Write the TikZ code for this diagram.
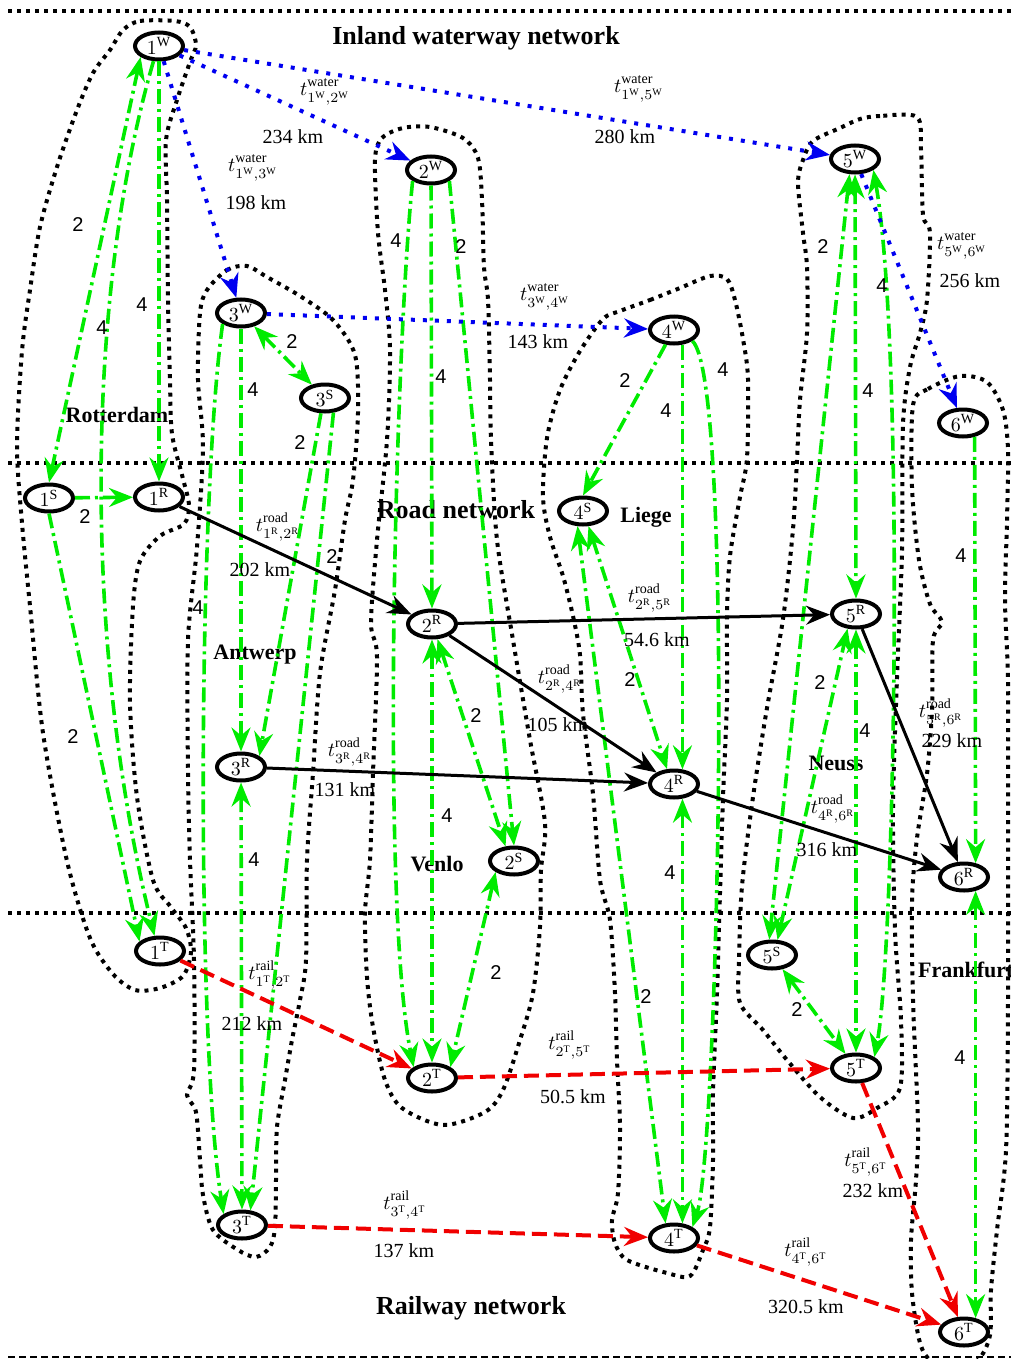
\documentclass[tikz,border=0pt]{standalone}
\usepackage{fontspec}
\setmainfont{Liberation Serif}
\setsansfont{Liberation Sans}
\usetikzlibrary{arrows.meta,shapes.geometric}
\definecolor{transfer}{RGB}{0,235,0}
\definecolor{waterway}{RGB}{0,0,240}
\definecolor{railway}{RGB}{240,0,0}
\newcommand{\nlab}[2]{$#1^{\mathrm{#2}}$}
\newcommand{\tarc}[4]{$t^{\mathrm{#1}\vphantom{,}}_{#3^{\mathrm{#2}},#4^{\mathrm{#2}}}$}

\begin{document}
\begin{tikzpicture}[
  x=0.5pt, y=-0.5pt,
  font=\fontsize{10}{12}\selectfont,
  >={Stealth[length=12pt,width=9.5pt,inset=4pt]},
  term/.style={draw, ellipse, line width=2pt, minimum width=24pt, minimum height=13.5pt, inner sep=0pt},
  trans/.style={draw=transfer, line width=1.8pt, dash pattern=on 7.5pt off 2.5pt on 1.5pt off 2.5pt},
  water/.style={draw=waterway, line width=2pt, dash pattern=on 2pt off 4pt},
  road/.style={draw=black, line width=1.5pt},
  rail/.style={draw=railway, line width=2pt, dash pattern=on 7.5pt off 3.5pt},
  cluster/.style={draw, line width=2pt, dash pattern=on 2pt off 2.6pt},
  netline/.style={draw, line width=2pt, dash pattern=on 2pt off 2.5pt},
  netname/.style={font=\fontsize{13}{15}\selectfont\bfseries},
  city/.style={font=\fontsize{11}{13}\selectfont\bfseries},
  cnt/.style={font=\sffamily\fontsize{10}{11}\selectfont, inner sep=1pt},
  dist/.style={inner sep=1pt}
]
\useasboundingbox (0,0) rectangle (1011,1359);

% layer separators
\draw[netline] (8,11) -- (1011,11);
\draw[netline] (8,463) -- (1011,463);
\draw[netline] (8,913) -- (1011,913);
\draw[line width=1pt, dash pattern=on 3.5pt off 2pt] (8,1357) -- (1011,1357);

% city outlines
\draw[cluster] plot[smooth cycle] coordinates {(123,30) (140,21) (175,21) (190,27) (196,45) (190,62) (177,100) (166,140) (167,200) (168,300) (170,383) (172,434) (182,475) (189,505) (184,524) (160,536) (140,561) (133,606) (130,702) (137,797) (153,880) (170,906) (186,928) (191,952) (183,976) (160,988) (135,990) (113,974) (90,938) (67,861) (43,733) (30,606) (22,523) (17,446) (22,351) (30,290) (40,227) (57,167) (77,110) (93,73) (110,50)};
\draw[cluster] plot[smooth cycle] coordinates {(207,290) (227,270) (247,266) (267,277) (300,296) (333,320) (355,355) (358,413) (353,480) (345,520) (335,590) (320,673) (313,773) (307,860) (306,960) (300,1000) (292,1040) (285,1080) (277,1127) (276,1180) (275,1227) (270,1247) (256,1257) (238,1250) (213,1230) (203,1195) (200,1160) (196,1112) (187,1095) (194,1070) (194,960) (190,860) (188,773) (188,640) (197,547) (203,447) (198,380) (200,313)};
\draw[cluster] plot[smooth cycle] coordinates {(375,160) (382,138) (403,128) (430,127) (463,138) (478,158) (482,200) (484,267) (488,300) (490,380) (491,440) (497,540) (513,640) (530,740) (545,823) (541,870) (540,927) (533,993) (520,1040) (503,1090) (485,1112) (443,1125) (402,1108) (385,1080) (373,1027) (367,977) (365,913) (370,860) (373,773) (377,657) (371,623) (377,540) (387,440) (390,350) (385,290) (378,233)};
\draw[cluster] plot[smooth cycle] coordinates {(620,311) (650,300) (680,288) (710,276) (727,279) (735,300) (743,339) (748,379) (747,458) (740,497) (730,556) (727,616) (727,700) (723,797) (720,893) (717,993) (713,1093) (713,1160) (710,1227) (703,1250) (690,1276) (667,1273) (627,1260) (615,1243) (612,1220) (618,1193) (620,1127) (617,1060) (615,993) (610,920) (600,880) (593,794) (583,714) (580,655) (573,616) (563,576) (550,537) (543,497) (547,438) (560,390) (580,351) (603,319)};
\draw[cluster] plot[smooth cycle] coordinates {(917,117) (880,116) (860,119) (840,128) (813,141) (803,160) (798,183) (803,233) (807,267) (807,333) (800,400) (797,460) (793,529) (783,619) (767,708) (753,797) (742,886) (739,960) (740,1003) (763,1030) (787,1060) (820,1097) (853,1118) (877,1108) (900,1088) (901,1020) (895,931) (893,806) (897,678) (902,551) (903,424) (910,367) (920,333) (927,300) (930,233) (923,215) (921,150)};
\draw[cluster] plot[smooth cycle] coordinates {(913,405) (928,389) (960,376) (987,382) (1003,410) (1008,450) (1007,520) (1005,600) (1008,680) (1008,800) (1008,1000) (1006,1150) (997,1230) (991,1290) (990,1335) (978,1360) (955,1368) (932,1362) (920,1343) (912,1293) (911,1240) (916,1180) (918,1124) (913,1000) (912,901) (917,838) (927,774) (932,710) (933,640) (942,622) (930,604) (919,560) (912,487)};

% network and city names
\node[netname] (nw) at (476,38) {Inland waterway network};
\node[netname] (nr) at (456,510) {Road network};
\node[netname] (nt) at (471,1308) {Railway network};
\node[city] (cRot) at (117,415) {Rotterdam};
\node[city] (cAnt) at (255,655) {Antwerp};
\node[city] (cVen) at (437,864) {Venlo};
\node[city] (cLie) at (646,517) {Liege};
\node[city] (cNeu) at (836,763) {Neuss};
\node[city, anchor=west] (cFra) at (911,970) {Frankfurt};

% terminals
\node[term] (w1) at (159,46) {\nlab{1}{W}};
\node[term] (w2) at (431,170) {\nlab{2}{W}};
\node[term] (w3) at (241,313) {\nlab{3}{W}};
\node[term] (w4) at (674,330) {\nlab{4}{W}};
\node[term] (w5) at (855,159) {\nlab{5}{W}};
\node[term] (w6) at (963,423) {\nlab{6}{W}};
\node[term] (s1) at (49,498) {\nlab{1}{S}};
\node[term] (s2) at (514,861) {\nlab{2}{S}};
\node[term] (s3) at (325,398) {\nlab{3}{S}};
\node[term] (s4) at (583,511) {\nlab{4}{S}};
\node[term] (s5) at (772,955) {\nlab{5}{S}};
\node[term] (r1) at (159,497) {\nlab{1}{R}};
\node[term] (r2) at (432,624) {\nlab{2}{R}};
\node[term] (r3) at (241,767) {\nlab{3}{R}};
\node[term] (r4) at (674,784) {\nlab{4}{R}};
\node[term] (r5) at (856,614) {\nlab{5}{R}};
\node[term] (r6) at (964,877) {\nlab{6}{R}};
\node[term] (t1) at (160,951) {\nlab{1}{T}};
\node[term] (t2) at (432,1078) {\nlab{2}{T}};
\node[term] (t3) at (242,1225) {\nlab{3}{T}};
\node[term] (t4) at (674,1238) {\nlab{4}{T}};
\node[term] (t5) at (856,1068) {\nlab{5}{T}};
\node[term] (t6) at (964,1332) {\nlab{6}{T}};

% transfers inside each city
\draw[trans,<->] (w1.south west) -- (s1.north) node[cnt] (g1) at (78,225) {2};
\draw[trans,->] (w1) -- (r1) node[cnt] (g2) at (142,305) {4};
\draw[trans,->] (w1.250) .. controls (84,300) and (84,650) .. (t1.110) node[cnt] (g3) at (102,328) {4};
\draw[trans,->] (s1) -- (r1) node[cnt] (g4) at (85,517) {2};
\draw[trans,->] (s1.south) -- (t1.155) node[cnt] (g5) at (73,737) {2};

\draw[trans,<->] (w3) -- (s3) node[cnt] (g6) at (292,342) {2};
\draw[trans,->] (w3) -- (r3) node[cnt] (g7) at (253,390) {4};
\draw[trans,->] (w3.south west) .. controls (198,500) and (196,1040) .. (t3.north west) node[cnt] (g8) at (198,608) {4};
\draw[trans,->] (s3.255) -- (r3.north east) node[cnt] (g9) at (300,443) {2};
\draw[trans,->] (s3.300) -- (t3.60) node[cnt] (g10) at (332,557) {2};
\draw[trans,<->] (r3) -- (t3) node[cnt] (g11) at (254,860) {4};

\draw[trans,->] (w2) -- (r2) node[cnt] (g12) at (441,377) {4};
\draw[trans,->] (w2.south west) .. controls (396,340) and (380,900) .. (t2.north west) node[cnt] (g13) at (396,241) {4};
\draw[trans,->] (w2.south east) -- (s2.north) node[cnt] (g14) at (461,247) {2};
\draw[trans,<->] (r2.290) -- (s2.120) node[cnt] (g15) at (476,716) {2};
\draw[trans,<->] (r2) -- (t2) node[cnt] (g16) at (447,816) {4};
\draw[trans,<->] (s2.south west) -- (t2.north east) node[cnt] (g17) at (496,973) {2};

\draw[trans,->] (w4.240) -- (s4.north) node[cnt] (g18) at (625,381) {2};
\draw[trans,->] (w4.300) -- (r4.60) node[cnt] (g19) at (666,411) {4};
\draw[trans,->] (w4.south east) .. controls (735,380) and (718,1150) .. (t4.north east) node[cnt] (g20) at (723,370) {4};
\draw[trans,<->] (s4.290) -- (r4.115) node[cnt] (g21) at (630,680) {2};
\draw[trans,<->] (s4.250) -- (t4.120) node[cnt] (g22) at (646,997) {2};
\draw[trans,<->] (r4.300) -- (t4.60) node[cnt] (g23) at (670,873) {4};

\draw[trans,<->] (w5) -- (r5) node[cnt] (g24) at (868,391) {4};
\draw[trans,<->] (w5.250) -- (s5.100) node[cnt] (g25) at (823,247) {2};
\draw[trans,<->] (w5.south east) .. controls (905,350) and (895,950) .. (t5.north east) node[cnt] (g26) at (882,286) {4};
\draw[trans,<->] (s5.70) -- (r5.240) node[cnt] (g27) at (820,683) {2};
\draw[trans,<->] (r5) -- (t5) node[cnt] (g28) at (865,731) {4};
\draw[trans,<->] (s5) -- (t5) node[cnt] (g29) at (797,1010) {2};

\draw[trans,->] (w6.310) -- (r6.50) node[cnt] (g30) at (961,556) {4};
\draw[trans,<->] (r6.310) -- (t6.50) node[cnt] (g31) at (960,1058) {4};

% inland waterway arcs
\draw[water,->] (w1) -- (w2) node[dist] (lw12) at (325,92) {\tarc{water}{W}{1}{2}} node[dist] (dw12) at (293,137) {234 km};
\draw[water,->] (w1) -- (w3) node[dist] (lw13) at (253,168) {\tarc{water}{W}{1}{3}} node[dist] (dw13) at (256,203) {198 km};
\draw[water,->] (w1) -- (w5) node[dist] (lw15) at (639,89) {\tarc{water}{W}{1}{5}} node[dist] (dw15) at (625,137) {280 km};
\draw[water,->] (w3) -- (w4) node[dist] (lw34) at (545,297) {\tarc{water}{W}{3}{4}} node[dist] (dw34) at (538,342) {143 km};
\draw[water,->] (w5) -- (w6) node[dist] (lw56) at (962,246) {\tarc{water}{W}{5}{6}} node[dist] (dw56) at (970,281) {256 km};

% road arcs
\draw[road,->] (r1) -- (r2) node[dist] (lr12) at (278,527) {\tarc{road}{R}{1}{2}} node[dist] (dr12) at (260,570) {202 km};
\draw[road,->] (r2) -- (r5) node[dist] (lr25) at (650,598) {\tarc{road}{R}{2}{5}} node[dist] (dr25) at (657,640) {54.6 km};
\draw[road,->] (r2) -- (r4) node[dist] (lr24) at (560,679) {\tarc{road}{R}{2}{4}} node[dist] (dr24) at (558,725) {105 km};
\draw[road,->] (r3) -- (r4) node[dist] (lr34) at (350,752) {\tarc{road}{R}{3}{4}} node[dist] (dr34) at (345,790) {131 km};
\draw[road,->] (r4) -- (r6) node[dist] (lr46) at (833,809) {\tarc{road}{R}{4}{6}} node[dist] (dr46) at (827,850) {316 km};
\draw[road,->] (r5) -- (r6) node[dist] (lr56) at (941,713) {\tarc{road}{R}{5}{6}} node[dist] (dr56) at (952,741) {229 km};

% railway arcs
\draw[rail,->] (t1) -- (t2) node[dist] (lt12) at (270,975) {\tarc{rail}{T}{1}{2}} node[dist] (dt12) at (252,1024) {212 km};
\draw[rail,->] (t2) -- (t5) node[dist] (lt25) at (570,1045) {\tarc{rail}{T}{2}{5}} node[dist] (dt25) at (573,1097) {50.5 km};
\draw[rail,->] (t3) -- (t4) node[dist] (lt34) at (405,1205) {\tarc{rail}{T}{3}{4}} node[dist] (dt34) at (404,1251) {137 km};
\draw[rail,->] (t4) -- (t6) node[dist] (lt46) at (806,1252) {\tarc{rail}{T}{4}{6}} node[dist] (dt46) at (806,1307) {320.5 km};
\draw[rail,->] (t5) -- (t6) node[dist] (lt56) at (866,1162) {\tarc{rail}{T}{5}{6}} node[dist] (dt56) at (873,1191) {232 km};
\end{tikzpicture}
\end{document}
